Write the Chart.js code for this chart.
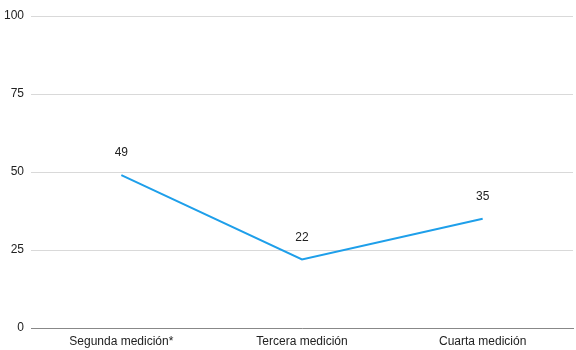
<!DOCTYPE html>
<html>
<head>
<meta charset="utf-8">
<script src="https://cdn.jsdelivr.net/npm/chart.js@4"></script>
<style>
  html, body { margin: 0; padding: 0; background: #fff; }
  #wrap { width: 576px; height: 350px; }
</style>
</head>
<body>
<div id="wrap"><canvas id="chart" width="576" height="350"></canvas></div>
<script>
const categories = ['Segunda medición*', 'Tercera medición', 'Cuarta medición'];
const values = [49, 22, 35];
const yTicks = [0, 25, 50, 75, 100];

const fontFamily = '"Liberation Sans", Arial, Helvetica, sans-serif';

// simple value labels above each point
const valueLabels = {
  id: 'valueLabels',
  afterDatasetsDraw(chart) {
    const ctx = chart.ctx;
    const meta = chart.getDatasetMeta(0);
    ctx.save();
    ctx.font = '12px ' + fontFamily;
    ctx.fillStyle = '#222';
    ctx.textAlign = 'center';
    ctx.textBaseline = 'middle';
    meta.data.forEach((pt, i) => {
      ctx.fillText(String(values[i]), pt.x, pt.y - 22);
    });
    ctx.restore();
  }
};

new Chart(document.getElementById('chart'), {
  type: 'line',
  data: {
    labels: categories,
    datasets: [{
      data: values,
      borderColor: '#1E9FEA',
      borderWidth: 2,
      pointRadius: 0,
      fill: false,
      tension: 0
    }]
  },
  options: {
    responsive: false,
    animation: false,
    layout: { padding: { top: 16, right: 3, bottom: 0, left: 0 } },
    plugins: {
      legend: { display: false },
      tooltip: { enabled: false }
    },
    scales: {
      x: {
        offset: true,
        afterFit(axis) { axis.height = 22; },
        grid: { display: false, drawTicks: false },
        border: { color: '#888', width: 1 },
        ticks: { color: '#222', font: { family: fontFamily, size: 12 }, padding: 6, maxRotation: 0 }
      },
      y: {
        min: 0,
        max: 100,
        afterBuildTicks(axis) { axis.ticks = yTicks.map(v => ({ value: v })); },
        afterFit(axis) { axis.width = 31; },
        grid: { color: '#d9d9d9', lineWidth: 1, drawTicks: false },
        border: { display: false },
        ticks: { color: '#222', font: { family: fontFamily, size: 12 }, padding: 7 }
      }
    }
  },
  plugins: [valueLabels]
});
</script>
</body>
</html>
